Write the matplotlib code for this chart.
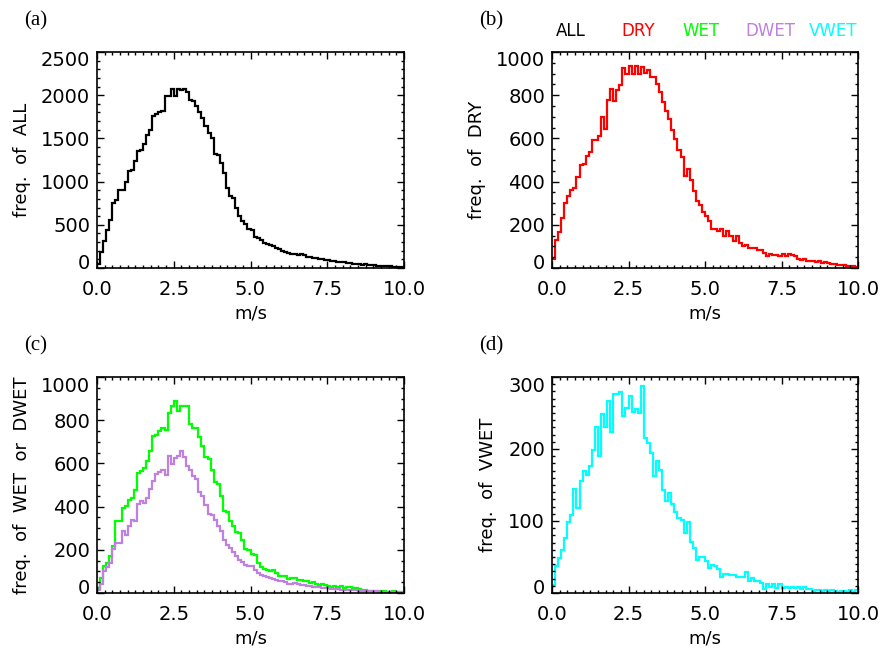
"""Step histograms of wind speed for ALL / DRY / WET / DWET / VWET days."""
import matplotlib
matplotlib.use('Agg')
import matplotlib.pyplot as plt
import matplotlib.transforms as mtransforms
import numpy as np
from matplotlib.ticker import MultipleLocator, AutoMinorLocator, FuncFormatter

# bin counts, 0.1 m/s bins from 0 to 10 m/s
ALL = [50, 190, 310, 440, 560, 750, 790, 905, 905, 1000,
       1120, 1140, 1235, 1350, 1360, 1430, 1545, 1595, 1765, 1785,
       1800, 1815, 1990, 1990, 2070, 1990, 2070, 2055, 2070, 2035,
       1950, 1930, 1880, 1800, 1735, 1640, 1560, 1505, 1325, 1310,
       1215, 1100, 925, 835, 810, 695, 600, 540, 515, 450,
       445, 355, 345, 320, 290, 280, 270, 250, 230, 220,
       200, 185, 175, 165, 165, 155, 165, 145, 125, 125,
       115, 110, 105, 100, 95, 90, 85, 80, 75, 70,
       65, 60, 55, 50, 50, 45, 40, 42, 38, 32,
       35, 28, 26, 22, 20, 18, 15, 14, 12, 10]

DRY = [40, 128, 165, 231, 300, 335, 362, 370, 421, 475,
       483, 517, 535, 594, 591, 610, 697, 644, 779, 829,
       775, 825, 849, 926, 900, 937, 900, 937, 900, 930,
       905, 918, 885, 885, 852, 813, 767, 725, 690, 640,
       597, 544, 514, 427, 460, 409, 355, 309, 293, 258,
       239, 216, 180, 180, 170, 180, 147, 170, 147, 123,
       147, 116, 103, 108, 93, 93, 93, 85, 85, 69,
       54, 66, 62, 62, 54, 66, 57, 66, 62, 54,
       42, 39, 42, 34, 31, 34, 28, 31, 23, 28,
       23, 19, 19, 15, 12, 12, 10, 8, 10, 5]

WET = [23, 69, 127, 139, 173, 219, 332, 332, 393, 401,
       432, 440, 478, 556, 563, 579, 610, 659, 725, 733,
       752, 764, 756, 833, 867, 887, 841, 864, 867, 864,
       782, 764, 764, 722, 679, 630, 620, 571, 512, 506,
       448, 378, 373, 332, 309, 281, 278, 247, 204, 201,
       182, 177, 139, 120, 111, 105, 100, 105, 93, 80,
       77, 77, 65, 69, 69, 62, 59, 54, 54, 46,
       49, 43, 39, 42, 37, 34, 28, 31, 28, 31,
       23, 26, 26, 23, 23, 19, 12, 12, 10, 9,
       10, 8, 7, 8, 6, 5, 7, 5, 4, 4]

DWET = [12, 43, 100, 120, 139, 204, 231, 231, 285, 270,
        309, 340, 332, 414, 424, 417, 440, 481, 517, 552,
        559, 568, 548, 636, 599, 625, 636, 656, 630, 586,
        571, 540, 528, 466, 451, 409, 367, 363, 340, 309,
        285, 247, 224, 208, 188, 170, 154, 142, 131, 127,
        123, 108, 93, 85, 80, 74, 69, 65, 59, 54,
        57, 49, 43, 43, 46, 42, 39, 37, 34, 31,
        28, 26, 28, 23, 22, 22, 19, 19, 17, 15,
        15, 14, 13, 12, 12, 11, 10, 9, 9, 8,
        7, 7, 6, 6, 5, 5, 4, 4, 3, 3]

VWET = [11, 37, 48, 60, 77, 99, 109, 144, 118, 155,
        169, 164, 176, 199, 230, 190, 248, 230, 266, 224,
        277, 277, 279, 246, 257, 273, 251, 255, 250, 287,
        215, 209, 194, 162, 183, 171, 143, 128, 139, 124,
        113, 104, 101, 84, 98, 71, 62, 46, 50, 50,
        45, 35, 39, 37, 33, 22, 26, 26, 25, 25,
        22, 22, 22, 29, 17, 21, 17, 17, 14, 6,
        12, 9, 13, 7, 13, 7, 9, 7, 8, 7,
        8, 6, 8, 6, 5, 3, 4, 4, 3, 4,
        3, 4, 3, 2, 3, 3, 2, 4, 2, 4]

NAMES = ['ALL', 'DRY', 'WET', 'DWET', 'VWET']
COLORS = ['black', '#ff0000', '#00ff00', '#bf80df', '#00ffff']
edges = np.linspace(0, 10, 101)

plt.rcParams['font.family'] = 'DejaVu Sans'

fig = plt.figure(figsize=(8.84, 6.51), dpi=100)
W, H = 884., 651.


def make_axes(left, top, right, bottom):
    return fig.add_axes([left / W, 1 - bottom / H, (right - left) / W,
                         (bottom - top) / H])


ax_a = make_axes(97, 52, 404, 268)
ax_b = make_axes(552, 52, 858, 268)
ax_c = make_axes(97, 377, 404, 593)
ax_d = make_axes(552, 377, 858, 593)

panels = [
    (ax_a, [(ALL, COLORS[0])], 2500, 500, 5, 'freq.  of  ALL', -0.245, '(a)'),
    (ax_b, [(DRY, COLORS[1])], 1000, 200, 4, 'freq.  of  DRY', -0.245, '(b)'),
    (ax_c, [(WET, COLORS[2]), (DWET, COLORS[3])], 1000, 200, 4,
     'freq.  of  WET  or  DWET', -0.245, '(c)'),
    (ax_d, [(VWET, COLORS[4])], 300, 100, 10, 'freq.  of  VWET', -0.21, '(d)'),
]

YPAD = 5  # points between axis and y tick labels

for ax, series, ytop, ystep, nminor, ylab, ylab_x, tag in panels:
    for vals, col in series:
        ax.stairs(vals, edges, color=col, lw=1.6, baseline=None)
    ax.set_xlim(0, 10)
    ax.set_ylim(0, ytop)
    ax.xaxis.set_major_locator(MultipleLocator(2.5))
    ax.xaxis.set_minor_locator(AutoMinorLocator(10))
    ax.yaxis.set_major_locator(MultipleLocator(ystep))
    ax.yaxis.set_minor_locator(AutoMinorLocator(nminor))
    ax.xaxis.set_major_formatter(plt.FormatStrFormatter('%.1f'))
    # end labels are drawn separately, nudged inside the axis like IDL does
    ax.yaxis.set_major_formatter(FuncFormatter(
        lambda v, p, top=ytop: '' if v <= 0 or v >= top else '%d' % v))
    ax.tick_params(which='both', direction='in', top=True, right=True,
                   width=1.0, labelsize=14)
    ax.tick_params(which='major', length=5)
    ax.tick_params(which='minor', length=2.5)
    ax.tick_params(axis='x', pad=9)
    ax.tick_params(axis='y', pad=YPAD)
    for sp in ax.spines.values():
        sp.set_linewidth(1.2)

    for val, dy in [(0, 6), (ytop, -7)]:
        off = mtransforms.ScaledTranslation(-YPAD / 72, dy / 100, fig.dpi_scale_trans)
        ax.text(0, val, '%d' % val, fontsize=14, ha='right', va='center_baseline',
                transform=ax.get_yaxis_transform() + off)

    ax.set_xlabel('m/s', fontsize=13)
    ax.xaxis.set_label_coords(0.5, -0.21)
    ax.xaxis.label.set_va('center')
    ax.set_ylabel(ylab, fontsize=13)
    ax.yaxis.set_label_coords(ylab_x, 0.5)
    ax.yaxis.label.set_va('center')

    pos = ax.get_position()
    fig.text(pos.x0 - 61 / W, pos.y1 + 31 / H, tag, family='Liberation Serif',
             fontsize=15, ha='center', va='center')

# colour key above panel (b)
key_x = [571, 638, 701, 770, 833]
for name, col, kx in zip(NAMES, COLORS, key_x):
    fig.text(kx / W, 1 - 30.7 / H, name, color=col, fontsize=12,
             ha='center', va='center')

fig.savefig('out.png', dpi=100)
